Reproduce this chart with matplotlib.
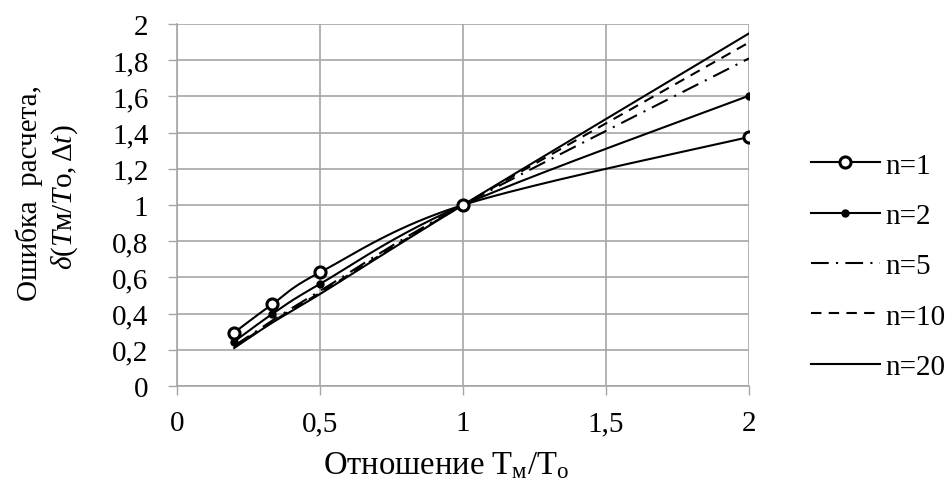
import numpy as np
import matplotlib
matplotlib.use("Agg")
import matplotlib.pyplot as plt
from matplotlib.lines import Line2D

plt.rcParams['font.family'] = ['Liberation Serif', 'DejaVu Serif']
plt.rcParams['mathtext.fontset'] = 'custom'
plt.rcParams['mathtext.rm'] = 'Liberation Serif'
plt.rcParams['mathtext.it'] = 'Liberation Serif:italic'

# ---- data ----
ratio = [0.2, 1/3, 0.5, 1.0, 2.0]
n1 = [0.295, 0.452, 0.628, 1.0, 1.376]
n2 = [0.245, 0.398, 0.564, 1.0, 1.604]
n5 = [0.222, 0.362, 0.525, 1.0, 1.81]
n10 = [0.215, 0.355, 0.515, 1.0, 1.898]
n20 = [0.21, 0.35, 0.508, 1.0, 1.948]
labels = ['n=1', 'n=2', 'n=5', 'n=10', 'n=20']
xticks = [0, 0.5, 1, 1.5, 2]
xticklabels = ['0', '0,5', '1', '1,5', '2']
yticks = [0, 0.2, 0.4, 0.6, 0.8, 1.0, 1.2, 1.4, 1.6, 1.8, 2.0]
yticklabels = ['0', '0,2', '0,4', '0,6', '0,8', '1', '1,2', '1,4', '1,6', '1,8', '2']


def smooth(x, y, steps=40):
    """Excel-style smoothed line (Catmull-Rom Bezier) through the points."""
    P = np.column_stack([x, y])
    n = len(P)
    out = []
    for i in range(n - 1):
        p0 = P[i - 1] if i > 0 else P[i]
        p1 = P[i]
        p2 = P[i + 1]
        p3 = P[i + 2] if i + 2 < n else P[i + 1]
        c1 = p1 + (p2 - p0) / 6.0
        c2 = p2 - (p3 - p1) / 6.0
        t = np.linspace(0, 1, steps)[:, None]
        seg = ((1 - t) ** 3) * p1 + 3 * ((1 - t) ** 2) * t * c1 + 3 * (1 - t) * t ** 2 * c2 + t ** 3 * p2
        out.append(seg if i == 0 else seg[1:])
    s = np.vstack(out)
    return s[:, 0], s[:, 1]


fig = plt.figure(figsize=(9.51, 4.81), dpi=100)
ax = fig.add_axes([177 / 951, 1 - 387 / 481, (749 - 177) / 951, (387 - 25) / 481])

grid_c = '#a6a6a6'
lw = 1.5
FS = 21

dashdot = (0, (8.5, 3.5, 1, 3.5))
dashed = (0, (5, 3.5))
series = [n1, n2, n5, n10, n20]
styles = ['-', '-', dashdot, dashed, '-']
for vals, ls in zip(series, styles):
    sx, sy = smooth(ratio, vals)
    ax.plot(sx, sy, color='black', lw=lw, linestyle=ls, zorder=3)

# markers
ax.plot(ratio, n2, linestyle='none', marker='o', ms=5, color='black', zorder=4)
ax.plot(ratio, n1, linestyle='none', marker='o', ms=8, mfc='white', mec='black', mew=2.2, zorder=5)

ax.set_xlim(0, 2)
ax.set_ylim(0, 2)
ax.set_xticks(xticks)
ax.set_xticklabels(xticklabels)
ax.set_yticks(yticks)
ax.set_yticklabels(yticklabels)
ax.tick_params(labelsize=FS, color=grid_c, length=6.5, width=1, direction='out')
ax.tick_params(axis='y', pad=14)
ax.tick_params(axis='x', pad=11)
ax.grid(True, color=grid_c, lw=1.2)
ax.set_axisbelow(True)
for s in ['top', 'right']:
    ax.spines[s].set_visible(False)
for s in ['left', 'bottom']:
    ax.spines[s].set_color(grid_c)
    ax.spines[s].set_linewidth(1.2)

# y label (two lines)
fig.text(29 / 951, 1 - 193 / 481, 'Ошибка  расчета,', rotation=90, ha='center', va='center', fontsize=FS)
fig.text(65 / 951, 1 - 197 / 481, r'$\delta($' + r'$T$м' + r'$/T$o' + r'$,\Delta t)$',
         rotation=90, ha='center', va='center', fontsize=FS)

# x label (subscripts partly cut by the bottom edge, as in the original)
fig.text(323 / 951, (481 - 474) / 481, r'Отношение T$_{\mathrm{м}}$/T$_{\mathrm{о}}$',
         ha='left', va='baseline', fontsize=23.5)

# legend
handles = [
    Line2D([], [], color='black', lw=lw, marker='o', ms=8, mfc='white', mec='black', mew=2.2),
    Line2D([], [], color='black', lw=lw, marker='o', ms=5),
    Line2D([], [], color='black', lw=lw, linestyle=dashdot),
    Line2D([], [], color='black', lw=lw, linestyle=dashed),
    Line2D([], [], color='black', lw=lw, linestyle='-'),
]
leg = fig.legend(handles, labels, loc='center left', bbox_to_anchor=(811 / 951, 1 - 267 / 481),
                 frameon=False, fontsize=FS, handlelength=2.36, handletextpad=0.2,
                 labelspacing=0.82, borderpad=0, borderaxespad=0)

fig.savefig('out.png', dpi=100)
